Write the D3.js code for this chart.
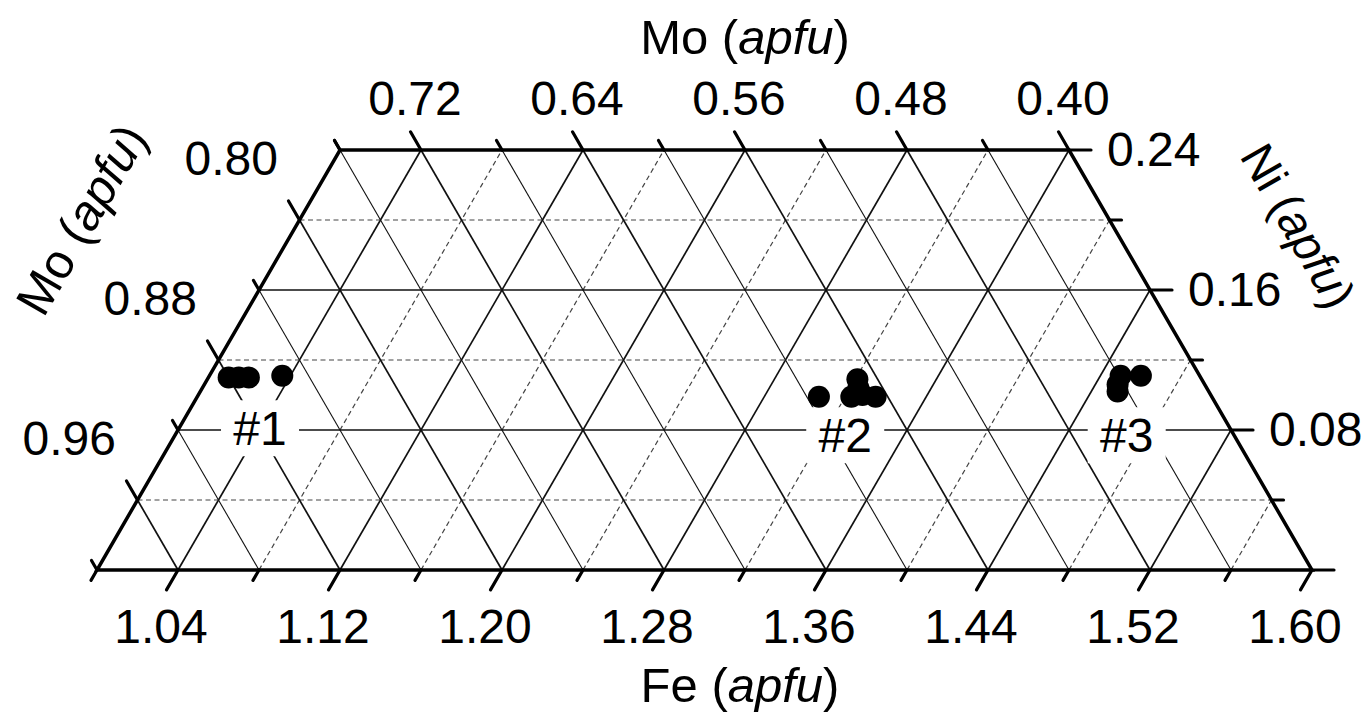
<!DOCTYPE html>
<html>
<head>
  <meta charset="UTF-8">
  <title>ternary</title>
  <style>
  body{
    margin: 0;
    background: #fff;
  }
  text{
    font-family: "Liberation Sans", Arial, sans-serif;
    fill: #000;
  }
  </style>
</head>
<body>
  <script src="https://cdn.jsdelivr.net/npm/d3@7"></script>
  <script type="text/javascript">
  // axis ticks
  var feTicks = [1.04, 1.12, 1.20, 1.28, 1.36, 1.44, 1.52, 1.60];
  var niTicks = [0.08, 0.16, 0.24];
  var moLeftTicks = [0.80, 0.88, 0.96];
  var moTopTicks = [0.72, 0.64, 0.56, 0.48, 0.40];

  // analyses (Fe, Ni in apfu)
  var group1Fe = [1.010, 1.015, 1.020, 1.036];
  var group1Ni = [0.110, 0.110, 0.110, 0.111];
  var group2Fe = [1.307, 1.321, 1.323, 1.328, 1.335, 1.324];
  var group2Ni = [0.099, 0.109, 0.099, 0.100, 0.099, 0.104];
  var group3Fe = [1.450, 1.460, 1.451, 1.453];
  var group3Ni = [0.111, 0.111, 0.106, 0.102];

  var groupNames = ['#1', '#2', '#3'];
  var groupLabelFe = [1.040, 1.331, 1.470];
  var groupLabelNi = [0.081, 0.077, 0.077];

  var width = 1368, height = 716;
  var svg = d3.select('body').append('svg')
  .attr('width', width)
  .attr('height', height);

  // Fe along the bottom, Ni upwards, Mo iso-lines parallel to the right edge
  var x = d3.scaleLinear().domain([1.00, 1.60]).range([97, 1312]);
  var y = d3.scaleLinear().domain([0, 0.24]).range([570, 150]);
  function pt(f, n){ return [x(f + n / 2), y(n)]; }

  // Mo on left edge -> Ni there, Mo on top edge -> Fe there
  var moLeft = d3.scaleLinear().domain([0.80, 1.04]).range([0.24, 0]);
  var moTop = d3.scaleLinear().domain([0.76, 0.40]).range([1.00, 1.36]);

  var line = d3.line();
  var step = 0.04;

  var grid = svg.append('g');
  var segs = [];
  // Fe lines "/"
  d3.range(1, 15).forEach(function(i){
    var f = 1 + i * step;
    segs.push({p: [pt(f, 0), pt(f, Math.min(0.24, 1.60 - f))], dash: i % 2 == 0, w: 1.7});
  });
  // Ni lines
  d3.range(1, 6).forEach(function(k){
    var n = k * step;
    segs.push({p: [pt(1.00, n), pt(1.60 - n, n)], dash: k % 2 == 1, w: 1.7});
  });
  // Mo lines "\"
  d3.range(1, 15).forEach(function(j){
    var c = 1 + j * step;
    var n1 = Math.min(0.24, c - 1.00);
    segs.push({p: [pt(c, 0), pt(c - n1, n1)], dash: false, w: j % 2 == 1 ? 1.7 : 1.1});
  });

  grid.selectAll('path')
  .data(segs)
  .enter()
  .append('path')
  .attr('d', function(d){ return line(d.p); })
  .attr('stroke', function(d){ return d.dash ? '#444' : '#111'; })
  .attr('stroke-width', function(d){ return d.dash ? 1.2 : d.w; })
  .attr('stroke-dasharray', function(d){ return d.dash ? '5,3.5' : null; })
  .attr('fill', 'none');

  // group labels with white box
  var labels = svg.append('g').selectAll('g')
  .data(groupNames)
  .enter()
  .append('g')
  .attr('transform', function(d, i){
    var p = pt(groupLabelFe[i], groupLabelNi[i]);
    return 'translate(' + p[0] + ',' + p[1] + ')';
  });
  labels.append('rect')
  .attr('x', -39).attr('y', -28)
  .attr('width', 78).attr('height', 56)
  .attr('fill', '#fff');
  labels.append('text')
  .attr('text-anchor', 'middle')
  .attr('y', 17)
  .attr('font-size', 48)
  .text(function(d){ return d; });

  // points
  var pts = [];
  [[group1Fe, group1Ni], [group2Fe, group2Ni], [group3Fe, group3Ni]].forEach(function(g){
    g[0].forEach(function(f, i){ pts.push(pt(f, g[1][i])); });
  });
  svg.append('g').selectAll('circle')
  .data(pts)
  .enter()
  .append('circle')
  .attr('cx', function(d){ return d[0]; })
  .attr('cy', function(d){ return d[1]; })
  .attr('r', 11)
  .attr('fill', '#000');

  // frame
  svg.append('path')
  .attr('d', line([pt(1, 0), pt(1.6, 0), pt(1.36, 0.24), pt(1, 0.24)]) + 'Z')
  .attr('fill', 'none')
  .attr('stroke', '#000')
  .attr('stroke-width', 3.5)
  .attr('stroke-linejoin', 'miter');

  var s3 = Math.sqrt(3) / 2;
  var ticks = svg.append('g')
  .attr('stroke', '#000')
  .attr('stroke-width', 3.2)
  .attr('stroke-linecap', 'round');

  function tick(p, dx, dy, len){
    ticks.append('line')
    .attr('x1', p[0]).attr('y1', p[1])
    .attr('x2', p[0] + dx * len).attr('y2', p[1] + dy * len);
  }

  // bottom ticks "/"
  d3.range(0, 16).forEach(function(i){
    tick(pt(1 + i * step, 0), -0.5, s3, i % 2 ? 23 : 12);
  });
  // right ticks
  d3.range(0, 7).forEach(function(k){
    var n = k * step;
    tick(pt(1.60 - n, n), 1, 0, k % 2 ? 12 : 22);
  });
  // left ticks "\"
  d3.range(0, 7).forEach(function(k){
    tick(pt(1.00, moLeft(0.80 + k * step)), -0.5, -s3, k % 2 ? 22 : 11);
  });
  // top ticks "\"
  d3.range(0, 10).forEach(function(k){
    tick(pt(moTop(0.76 - k * step), 0.24), -0.5, -s3, k % 2 ? 21 : 11);
  });

  var fmt = d3.format('.2f');
  var tl = svg.append('g').attr('font-size', 48);

  tl.selectAll('.fe')
  .data(feTicks)
  .enter()
  .append('text')
  .attr('text-anchor', 'middle')
  .attr('x', function(d){ return pt(d, 0)[0] - 17; })
  .attr('y', 643)
  .text(fmt);

  tl.selectAll('.ni')
  .data(niTicks)
  .enter()
  .append('text')
  .attr('x', function(d){ return pt(1.60 - d, d)[0] + 38; })
  .attr('y', function(d){ return pt(1.60 - d, d)[1] + 16; })
  .text(fmt);

  tl.selectAll('.ml')
  .data(moLeftTicks)
  .enter()
  .append('text')
  .attr('text-anchor', 'end')
  .attr('x', function(d){ return pt(1.00, moLeft(d))[0] - 62; })
  .attr('y', function(d){ return pt(1.00, moLeft(d))[1] + 25; })
  .text(fmt);

  tl.selectAll('.mt')
  .data(moTopTicks)
  .enter()
  .append('text')
  .attr('text-anchor', 'middle')
  .attr('x', function(d){ return pt(moTop(d), 0.24)[0] - 6; })
  .attr('y', 115)
  .text(fmt);

  // axis titles
  function title(tx, ty, rot, name, size){
    var t = svg.append('text')
    .attr('font-size', size)
    .attr('text-anchor', 'middle')
    .attr('transform', 'translate(' + tx + ',' + ty + ') rotate(' + rot + ')');
    t.append('tspan').text(name + ' (');
    t.append('tspan').attr('font-style', 'italic').text('apfu');
    t.append('tspan').text(')');
  }
  title(745, 54, 0, 'Mo', 49);
  title(740, 702, 0, 'Fe', 49);
  title(96, 228, -60, 'Mo', 49);
  title(1284, 234, 60, 'Ni', 47);
  </script>
</body>
</html>
